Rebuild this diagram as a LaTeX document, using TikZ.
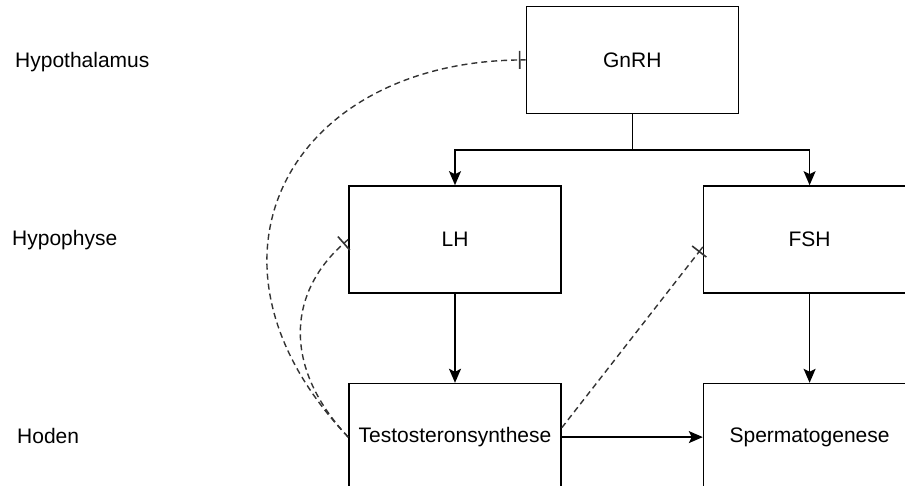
\documentclass[tikz,border=0pt]{standalone}
\usepackage{fontspec}
\setmainfont{Liberation Sans}
\usepackage{tikz}
\usetikzlibrary{calc, positioning, arrows.meta}
\tikzset{
    hormone/.style={rectangle, draw=black, line width=1.6pt, fill=white, align=center, minimum width=212pt, minimum height=107pt, inner sep=0pt, font=\fontsize{21}{25}\selectfont},
    level/.style={anchor=west, inner sep=0pt, font=\fontsize{21}{25}\selectfont},
    arrow/.style={-{Stealth[length=14pt, width=12pt, inset=3pt]}, line width=1.6pt},
    inhibit/.style={-{Bar[width=18pt, line width=1.6pt] Rectangle[length=5pt, width=1.4pt, line width=0pt]}, black!80, line width=1.4pt, dash pattern=on 6pt off 4pt}
}

\begin{document}
\begin{tikzpicture}[x=1pt, y=1pt]
    \clip (0,0) rectangle (905,486);

    % Levels
    \node[level] (hypothalamus) at (15,424) {Hypothalamus};
    \node[level] (hypophyse) at (12,246) {Hypophyse};
    \node[level] (hoden) at (17,50) {Hoden};

    % Boxes
    \node[hormone] (LH) at (455,246.5) {LH};
    \node[hormone, right=141pt of LH] (FSH) {FSH};
    \node[hormone, below=89pt of LH] (Testo) {Testosteronsynthese};
    \node[hormone, below=89pt of FSH] (Sperma) {Spermatogenese};
    \coordinate (mid) at ($(LH.north)!0.5!(FSH.north)$);
    \node[hormone, above=71pt of mid] (GnRH) {GnRH};

    % Stimulation
    \coordinate (fork) at ($(GnRH.south)+(0,-36)$);
    \draw[line width=1.6pt] (GnRH.south) -- (fork);
    \draw[arrow] (fork) -| (LH.north);
    \draw[arrow] (fork) -| (FSH.north);
    \draw[arrow] (LH) -- (Testo);
    \draw[arrow] (FSH) -- (Sperma);
    \draw[arrow] (Testo) -- (Sperma);

    % Negative feedback
    \draw[inhibit] (Testo.west) .. controls (180,226) and (290,424) .. (GnRH.west);
    \draw[inhibit] (Testo.west) .. controls (285,116) and (285,191) .. (LH.west);
    \draw[inhibit] (Testo.5) -- (FSH.184);
\end{tikzpicture}
\end{document}
